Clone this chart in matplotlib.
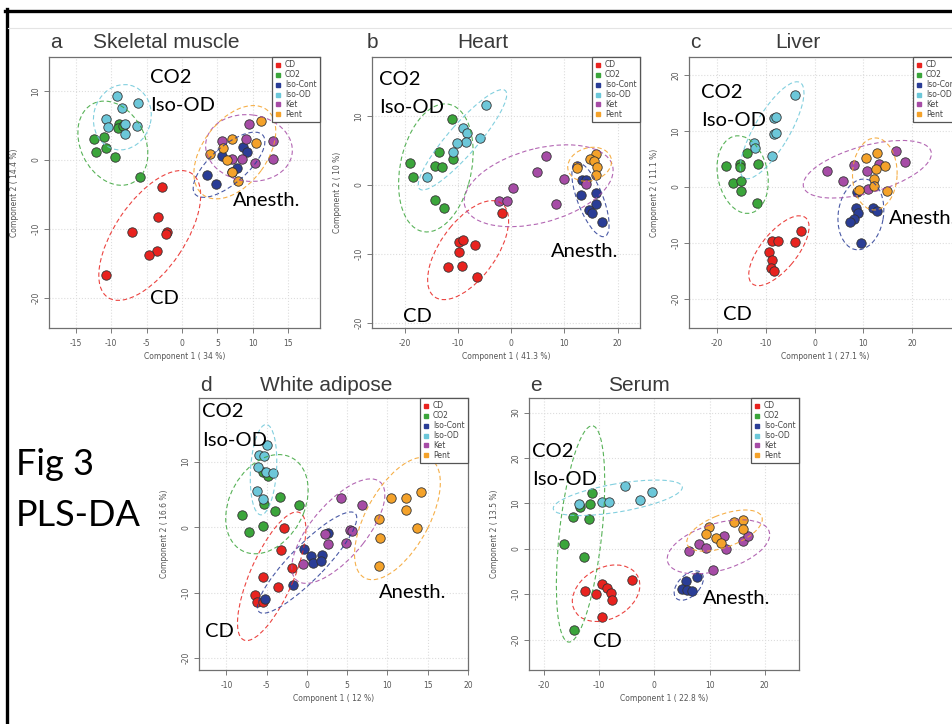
import numpy as np
import matplotlib
matplotlib.use('Agg')
import matplotlib.pyplot as plt
from matplotlib.patches import Ellipse
from matplotlib.lines import Line2D

plt.rcParams['axes.unicode_minus'] = False

groups = ['CD', 'CO2', 'Iso-Cont', 'Iso-OD', 'Ket', 'Pent']
colors = ['#e8231f', '#3ba53b', '#2a3d96', '#6cc7d9', '#a64ca6', '#f4a22a']

# PLS-DA scores, (component 1, component 2) per group
muscle = {
    'CD': ([-2.9, -3.4, -7.0, -2.1, -2.2, -3.5, -4.7, -10.7],
           [-3.9, -8.3, -10.4, -10.4, -10.7, -13.2, -13.7, -16.7]),
    'CO2': ([-12.4, -11.0, -12.1, -10.8, -8.9, -9.0, -8.3, -9.5, -6.0],
            [3.0, 3.4, 1.1, 1.7, 5.2, 4.6, 4.9, 0.4, -2.4]),
    'Iso-Cont': ([3.5, 4.8, 5.7, 8.6, 9.2, 7.7, 7.0],
                 [-2.1, -3.4, 0.6, 1.9, 1.1, -1.1, -1.8]),
    'Iso-OD': ([-9.2, -6.2, -8.5, -10.8, -10.4, -8.0, -8.0, -6.4],
               [9.2, 8.3, 7.5, 5.9, 4.8, 5.2, 3.7, 4.9]),
    'Ket': ([9.5, 5.7, 9.0, 12.8, 7.1, 8.5, 10.3, 12.8],
            [5.2, 2.7, 3.0, 2.8, 0.2, 0.2, -0.4, 0.2]),
    'Pent': ([11.1, 7.1, 10.5, 5.8, 4.0, 6.3, 7.0, 7.9],
             [5.6, 3.1, 2.5, 1.8, 0.8, 0.0, -1.8, -3.0]),
}
heart = {
    'CD': ([-1.8, -9.8, -9.0, -9.9, -6.8, -12.0, -9.3, -6.4],
           [-4.0, -8.2, -8.0, -9.7, -8.7, -11.9, -11.7, -13.3]),
    'CO2': ([-11.2, -19.1, -18.4, -13.6, -14.4, -13.0, -10.9, -14.4, -12.7],
            [9.5, 3.1, 1.2, 4.7, 2.8, 2.6, 3.8, -2.2, -3.4]),
    'Iso-Cont': ([13.2, 14.0, 13.1, 16.0, 16.0, 14.6, 15.1, 17.1],
                 [0.7, 0.7, -1.5, -1.2, -2.7, -3.6, -4.1, -5.3]),
    'Iso-OD': ([-4.8, -9.0, -8.4, -5.8, -8.5, -10.2, -10.9, -15.9],
               [11.6, 8.2, 7.5, 6.8, 6.2, 6.0, 4.7, 1.2]),
    'Ket': ([6.6, 4.9, 10.0, 0.4, -2.3, -0.9, 8.4, 14.0],
            [4.2, 1.8, 0.8, -0.4, -2.4, -2.4, -2.8, 0.2]),
    'Pent': ([15.9, 14.8, 12.3, 15.6, 16.2, 15.9, 12.4],
             [4.5, 3.7, 2.7, 3.5, 2.6, 1.4, 2.5]),
}
liver = {
    'CD': ([-2.7, -8.7, -7.4, -4.0, -9.4, -8.8, -9.0, -8.3],
           [-7.8, -9.7, -9.7, -9.9, -11.7, -13.0, -14.4, -15.0]),
    'CO2': ([-18.2, -15.2, -15.2, -13.9, -11.5, -16.7, -15.0, -15.0, -11.7],
            [3.8, 4.1, 3.5, 6.1, 4.1, 0.7, 1.1, -0.8, -2.8]),
    'Iso-Cont': ([8.8, 8.5, 8.9, 8.1, 7.3, 12.0, 12.8, 9.6],
                 [-1.0, -3.8, -4.6, -5.7, -6.2, -3.7, -4.3, -10.0]),
    'Iso-OD': ([-4.0, -8.2, -7.9, -8.3, -7.8, -12.4, -12.2, -8.7],
               [16.5, 12.3, 12.5, 9.5, 9.7, 7.9, 7.0, 5.5]),
    'Ket': ([2.5, 5.8, 8.1, 10.7, 13.2, 16.7, 18.5, 11.0],
            [2.8, 1.1, 3.9, 2.8, 4.1, 6.4, 4.5, -0.4]),
    'Pent': ([10.5, 12.8, 14.4, 12.6, 12.2, 12.2, 9.2, 14.9],
             [5.2, 6.1, 3.7, 3.2, 1.4, 0.2, -0.5, -0.8]),
}
adipose = {
    'CD': ([-2.8, -3.2, -1.8, -5.5, -3.6, -6.4, -6.2, -5.5],
           [-0.2, -3.5, -6.3, -7.6, -9.2, -10.4, -11.4, -11.4]),
    'CO2': ([-8.1, -7.2, -5.5, -5.3, -4.0, -3.3, -1.0, -5.5, -4.8],
            [1.9, -0.7, 0.1, 3.5, 2.5, 4.6, 3.4, 8.4, 7.8]),
    'Iso-Cont': ([-0.4, 0.5, 0.7, 1.9, 1.8, 2.6, -1.7, -5.2],
                 [-3.4, -4.4, -5.5, -4.2, -5.1, -0.9, -8.8, -11.0]),
    'Iso-OD': ([-4.9, -5.9, -5.3, -6.1, -5.1, -4.2, -6.2, -5.4],
               [12.6, 11.0, 10.9, 9.2, 8.4, 8.2, 5.5, 4.3]),
    'Ket': ([4.2, 6.9, 2.2, 2.6, 4.8, 5.4, 5.6, -0.5],
            [4.5, 3.3, -1.0, -2.5, -2.4, -0.5, -0.6, -5.7]),
    'Pent': ([10.5, 12.3, 14.2, 12.3, 8.9, 9.1, 13.7, 8.9],
             [4.5, 4.5, 5.3, 2.6, 1.3, -1.6, -0.1, -6.0]),
}
serum = {
    'CD': ([-4.0, -9.5, -8.5, -7.8, -12.6, -10.5, -7.6, -9.4],
           [-6.8, -7.7, -8.7, -9.7, -9.2, -9.9, -11.3, -15.1]),
    'CO2': ([-11.3, -11.7, -14.8, -11.9, -16.4, -12.7, -14.6, -13.5],
            [12.2, 9.9, 6.9, 6.5, 1.0, -1.8, -17.9, 9.3]),
    'Iso-Cont': ([5.7, 7.8, 5.0, 5.9, 6.8],
                 [-7.1, -6.3, -8.8, -9.0, -9.3]),
    'Iso-OD': ([-13.6, -9.4, -8.2, -5.4, -2.6, -0.5],
               [9.8, 10.2, 10.3, 13.9, 10.7, 12.4]),
    'Ket': ([6.2, 8.0, 9.3, 12.6, 13.0, 16.1, 17.0, 10.7],
            [-0.6, 1.1, 0.2, 2.9, 0.0, 1.7, 2.8, -4.7]),
    'Pent': ([9.9, 9.4, 11.2, 12.0, 14.4, 16.0, 16.1],
             [4.7, 3.2, 2.4, 1.2, 5.8, 6.4, 4.3]),
}

W, H = 953, 724
fig = plt.figure(figsize=(W / 100, H / 100), dpi=100)


def px(x, y):
    return x / W, 1 - y / H


# panel: data, axes box in px (l, t, r, b), limits, ticks, labels, letter/title, group labels
panels = [
    (muscle, (49, 57, 320, 328), (-18.8, 19.5), (-24.3, 14.9),
     [-15, -10, -5, 0, 5, 10, 15], [-20, -10, 0, 10],
     'Component 1 ( 34 %)', 'Component 2 ( 14.4 %)',
     ('a', 50, 48), ('Skeletal muscle', 93, 48),
     [('CO2', 150, 83), ('Iso-OD', 150, 111), ('Anesth.', 233, 206), ('CD', 150, 304)]),
    (heart, (372, 57, 640, 328), (-26.2, 24.2), (-20.7, 18.5),
     [-20, -10, 0, 10, 20], [-20, -10, 0, 10],
     'Component 1 ( 41.3 %)', 'Component 2 ( 10 %)',
     ('b', 367, 48), ('Heart', 457, 48),
     [('CO2', 379, 85), ('Iso-OD', 379, 113), ('Anesth.', 551, 257), ('CD', 403, 322)]),
    (liver, (689, 57, 961, 328), (-25.7, 30.0), (-25.2, 23.2),
     [-20, -10, 0, 10, 20], [-20, -10, 0, 10, 20],
     'Component 1 ( 27.1 %)', 'Component 2 ( 11.1 %)',
     ('c', 690, 48), ('Liver', 775, 48),
     [('CO2', 701, 98), ('Iso-OD', 701, 126), ('Anesth.', 889, 224), ('CD', 723, 320)]),
    (adipose, (199, 398, 468, 670), (-13.4, 20.0), (-21.8, 19.7),
     [-10, -5, 0, 5, 10, 15, 20], [-20, -10, 0, 10],
     'Component 1 ( 12 %)', 'Component 2 ( 16.6 %)',
     ('d', 200, 391), ('White adipose', 260, 391),
     [('CO2', 202, 417), ('Iso-OD', 202, 446), ('Anesth.', 379, 598), ('CD', 205, 637)]),
    (serum, (529, 398, 799, 670), (-22.7, 26.2), (-26.7, 33.2),
     [-20, -10, 0, 10, 20], [-20, -10, 0, 10, 20, 30],
     'Component 1 ( 22.8 %)', 'Component 2 ( 13.5 %)',
     ('e', 530, 391), ('Serum', 608, 391),
     [('CO2', 532, 457), ('Iso-OD', 532, 485), ('Anesth.', 703, 604), ('CD', 593, 647)]),
]

k95 = np.sqrt(5.991)  # 95% chi-square, 2 df

for data, (l, t, r, b), xl, yl, xt, yt, xlab, ylab, letter, title, labels in panels:
    ax = fig.add_axes([l / W, 1 - b / H, (r - l) / W, (b - t) / H])
    for g, c in zip(groups, colors):
        x = np.array(data[g][0])
        y = np.array(data[g][1])
        ax.scatter(x, y, s=46, color=c, edgecolors='#333333', linewidths=0.6, zorder=3)
        cov = np.cov(x, y)
        vals, vecs = np.linalg.eigh(cov)
        ang = np.degrees(np.arctan2(vecs[1, 1], vecs[0, 1]))
        ell = Ellipse((x.mean(), y.mean()), 2 * k95 * np.sqrt(vals[1]), 2 * k95 * np.sqrt(vals[0]),
                      angle=ang, fill=False, edgecolor=c, ls=(0, (4, 2.5)), lw=0.8, alpha=0.85, zorder=4)
        ax.add_patch(ell)
    ax.set_xlim(xl)
    ax.set_ylim(yl)
    ax.set_xticks(xt)
    ax.set_yticks(yt)
    ax.grid(True, color='#dddddd', ls=':', lw=0.8)
    ax.set_axisbelow(True)
    for sp in ax.spines.values():
        sp.set_color('#707070')
        sp.set_linewidth(0.9)
    ax.tick_params(length=3.5, width=0.6, color='#666666', labelsize=5.5, labelcolor='#555555')
    ax.tick_params(axis='x', pad=4.5)
    ax.tick_params(axis='y', pad=2.5, labelrotation=90)
    for lab in ax.get_yticklabels():
        lab.set_va('center')
    ax.set_xlabel(xlab, fontsize=5.5, color='#555555', labelpad=3)
    ax.set_ylabel(ylab, fontsize=5.5, color='#555555', labelpad=9)

    handles = [Line2D([], [], ls='none', marker='s', markersize=3, color=c) for c in colors]
    leg = ax.legend(handles, groups, loc='upper right', bbox_to_anchor=(1, 1), borderaxespad=0,
                    fontsize=5.5, handlelength=0.6, handletextpad=0.6, labelspacing=0.12,
                    borderpad=0.45, fancybox=False, framealpha=1, edgecolor='#555555')
    leg.get_frame().set_linewidth(0.9)
    for txt in leg.get_texts():
        txt.set_color('#444444')

    fig.text(*px(letter[1], letter[2]), letter[0], fontsize=15, color='#3a3a3a',
             family='Liberation Sans', va='baseline', ha='left')
    fig.text(*px(title[1], title[2]), title[0], fontsize=15, color='#3a3a3a',
             family='Liberation Sans', va='baseline', ha='left')
    for s, x0, y0 in labels:
        fig.text(*px(x0, y0), s, fontsize=14.5, family='Lato', color='black',
                 va='baseline', ha='left', zorder=10)

fig.text(*px(16, 475), 'Fig 3', fontsize=26, family='Lato', va='baseline', ha='left')
fig.text(*px(16, 526), 'PLS-DA', fontsize=26, family='Lato', va='baseline', ha='left')

# frame of the slide
fig.add_artist(Line2D([5 / W, 1], [1 - 10.5 / H, 1 - 10.5 / H], color='black', lw=2.4))
fig.add_artist(Line2D([6.5 / W, 6.5 / W], [0, 1 - 9 / H], color='black', lw=2.4))
fig.add_artist(Line2D([8 / W, 1], [1 - 28 / H, 1 - 28 / H], color='#e4e4e4', lw=0.8))

fig.savefig('out.png', dpi=100)
